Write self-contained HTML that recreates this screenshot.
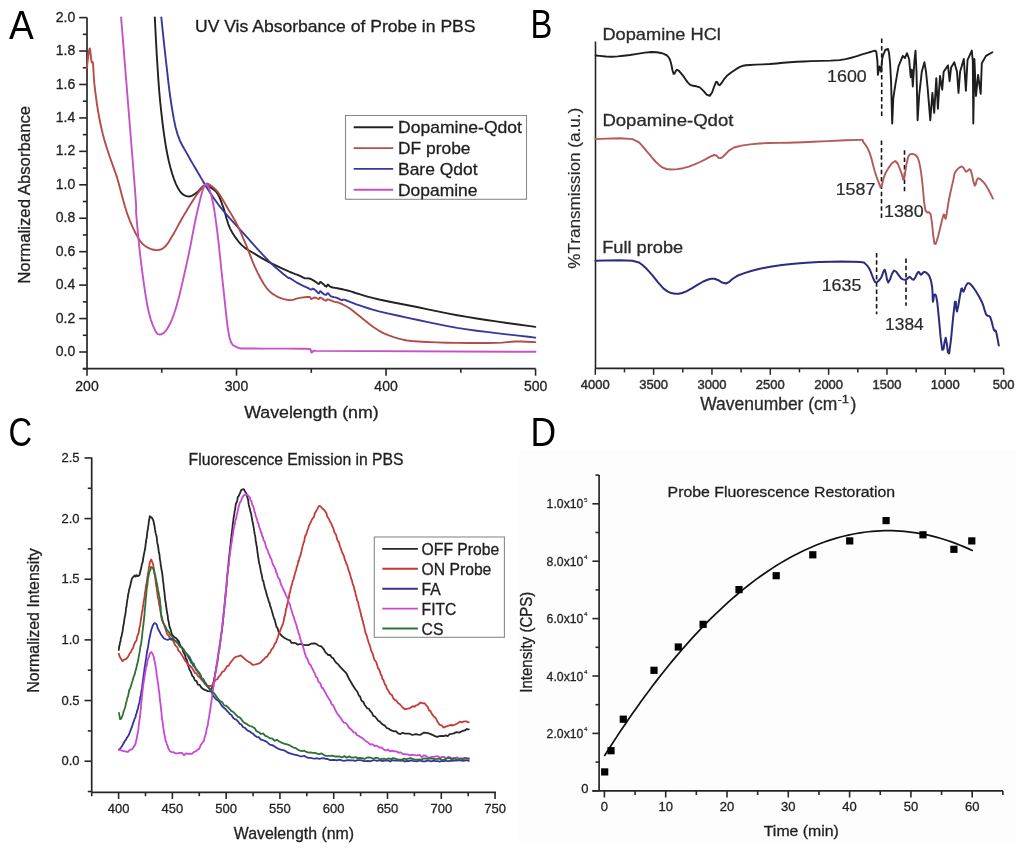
<!DOCTYPE html>
<html><head><meta charset="utf-8"><title>Figure</title>
<style>
html,body{margin:0;padding:0;background:#ffffff;}
body{width:1024px;height:851px;overflow:hidden;position:relative;}
svg{position:absolute;left:0;top:0;display:block;filter:blur(0.3px);}
text{font-family:"Liberation Sans", sans-serif;}
</style></head><body>
<svg width="1024" height="851" viewBox="0 0 1024 851">
<rect x="518.9" y="449.8" width="497.3" height="393.2" fill="#fdfdfd"/>
<text x="9" y="39.1" font-size="40.8" fill="#000" stroke="#000" stroke-width="0" textLength="24.8" lengthAdjust="spacingAndGlyphs" >A</text>
<text x="530.6" y="37.9" font-size="40.5" fill="#000" stroke="#000" stroke-width="0" textLength="21.8" lengthAdjust="spacingAndGlyphs" >B</text>
<text x="8.6" y="445.5" font-size="40" fill="#000" stroke="#000" stroke-width="0" textLength="23.6" lengthAdjust="spacingAndGlyphs" >C</text>
<text x="530.4" y="445.5" font-size="40.5" fill="#000" stroke="#000" stroke-width="0" textLength="25.6" lengthAdjust="spacingAndGlyphs" >D</text>
<line x1="87" y1="17.4" x2="87" y2="368.7" stroke="#262626" stroke-width="1.7" />
<line x1="82.8" y1="368.7" x2="535.6" y2="368.7" stroke="#262626" stroke-width="1.7" />
<line x1="82.8" y1="368.72" x2="87" y2="368.72" stroke="#262626" stroke-width="1.6" />
<line x1="79.2" y1="352" x2="87" y2="352" stroke="#262626" stroke-width="1.6" />
<text x="75.2" y="356.1" font-size="14" fill="#1f1f1f" stroke="#1f1f1f" stroke-width="0.3" text-anchor="end" >0.0</text>
<line x1="82.8" y1="335.28" x2="87" y2="335.28" stroke="#262626" stroke-width="1.6" />
<line x1="79.2" y1="318.56" x2="87" y2="318.56" stroke="#262626" stroke-width="1.6" />
<text x="75.2" y="322.66" font-size="14" fill="#1f1f1f" stroke="#1f1f1f" stroke-width="0.3" text-anchor="end" >0.2</text>
<line x1="82.8" y1="301.84" x2="87" y2="301.84" stroke="#262626" stroke-width="1.6" />
<line x1="79.2" y1="285.12" x2="87" y2="285.12" stroke="#262626" stroke-width="1.6" />
<text x="75.2" y="289.22" font-size="14" fill="#1f1f1f" stroke="#1f1f1f" stroke-width="0.3" text-anchor="end" >0.4</text>
<line x1="82.8" y1="268.4" x2="87" y2="268.4" stroke="#262626" stroke-width="1.6" />
<line x1="79.2" y1="251.68" x2="87" y2="251.68" stroke="#262626" stroke-width="1.6" />
<text x="75.2" y="255.78" font-size="14" fill="#1f1f1f" stroke="#1f1f1f" stroke-width="0.3" text-anchor="end" >0.6</text>
<line x1="82.8" y1="234.96" x2="87" y2="234.96" stroke="#262626" stroke-width="1.6" />
<line x1="79.2" y1="218.24" x2="87" y2="218.24" stroke="#262626" stroke-width="1.6" />
<text x="75.2" y="222.34" font-size="14" fill="#1f1f1f" stroke="#1f1f1f" stroke-width="0.3" text-anchor="end" >0.8</text>
<line x1="82.8" y1="201.52" x2="87" y2="201.52" stroke="#262626" stroke-width="1.6" />
<line x1="79.2" y1="184.8" x2="87" y2="184.8" stroke="#262626" stroke-width="1.6" />
<text x="75.2" y="188.9" font-size="14" fill="#1f1f1f" stroke="#1f1f1f" stroke-width="0.3" text-anchor="end" >1.0</text>
<line x1="82.8" y1="168.08" x2="87" y2="168.08" stroke="#262626" stroke-width="1.6" />
<line x1="79.2" y1="151.36" x2="87" y2="151.36" stroke="#262626" stroke-width="1.6" />
<text x="75.2" y="155.46" font-size="14" fill="#1f1f1f" stroke="#1f1f1f" stroke-width="0.3" text-anchor="end" >1.2</text>
<line x1="82.8" y1="134.64" x2="87" y2="134.64" stroke="#262626" stroke-width="1.6" />
<line x1="79.2" y1="117.92" x2="87" y2="117.92" stroke="#262626" stroke-width="1.6" />
<text x="75.2" y="122.02" font-size="14" fill="#1f1f1f" stroke="#1f1f1f" stroke-width="0.3" text-anchor="end" >1.4</text>
<line x1="82.8" y1="101.2" x2="87" y2="101.2" stroke="#262626" stroke-width="1.6" />
<line x1="79.2" y1="84.48" x2="87" y2="84.48" stroke="#262626" stroke-width="1.6" />
<text x="75.2" y="88.58" font-size="14" fill="#1f1f1f" stroke="#1f1f1f" stroke-width="0.3" text-anchor="end" >1.6</text>
<line x1="82.8" y1="67.76" x2="87" y2="67.76" stroke="#262626" stroke-width="1.6" />
<line x1="79.2" y1="51.04" x2="87" y2="51.04" stroke="#262626" stroke-width="1.6" />
<text x="75.2" y="55.14" font-size="14" fill="#1f1f1f" stroke="#1f1f1f" stroke-width="0.3" text-anchor="end" >1.8</text>
<line x1="82.8" y1="34.32" x2="87" y2="34.32" stroke="#262626" stroke-width="1.6" />
<line x1="79.2" y1="17.6" x2="87" y2="17.6" stroke="#262626" stroke-width="1.6" />
<text x="75.2" y="21.7" font-size="14" fill="#1f1f1f" stroke="#1f1f1f" stroke-width="0.3" text-anchor="end" >2.0</text>
<line x1="87" y1="368.7" x2="87" y2="375.7" stroke="#262626" stroke-width="1.6" />
<text x="87" y="391" font-size="14" fill="#1f1f1f" stroke="#1f1f1f" stroke-width="0.3" text-anchor="middle" >200</text>
<line x1="161.76" y1="368.7" x2="161.76" y2="372.8" stroke="#262626" stroke-width="1.6" />
<line x1="236.52" y1="368.7" x2="236.52" y2="375.7" stroke="#262626" stroke-width="1.6" />
<text x="236.52" y="391" font-size="14" fill="#1f1f1f" stroke="#1f1f1f" stroke-width="0.3" text-anchor="middle" >300</text>
<line x1="311.28" y1="368.7" x2="311.28" y2="372.8" stroke="#262626" stroke-width="1.6" />
<line x1="386.04" y1="368.7" x2="386.04" y2="375.7" stroke="#262626" stroke-width="1.6" />
<text x="386.04" y="391" font-size="14" fill="#1f1f1f" stroke="#1f1f1f" stroke-width="0.3" text-anchor="middle" >400</text>
<line x1="460.8" y1="368.7" x2="460.8" y2="372.8" stroke="#262626" stroke-width="1.6" />
<line x1="535.56" y1="368.7" x2="535.56" y2="375.7" stroke="#262626" stroke-width="1.6" />
<text x="535.56" y="391" font-size="14" fill="#1f1f1f" stroke="#1f1f1f" stroke-width="0.3" text-anchor="middle" >500</text>
<text x="195" y="31.8" font-size="16.4" fill="#1f1f1f" stroke="#1f1f1f" stroke-width="0.3" textLength="280.5" lengthAdjust="spacingAndGlyphs" >UV Vis Absorbance of Probe in PBS</text>
<text x="244.2" y="417.6" font-size="16.7" fill="#1f1f1f" stroke="#1f1f1f" stroke-width="0.3" textLength="134.5" lengthAdjust="spacingAndGlyphs" >Wavelength (nm)</text>
<text x="29.6" y="283.8" font-size="16.7" fill="#1f1f1f" stroke="#1f1f1f" stroke-width="0.3" textLength="178" lengthAdjust="spacingAndGlyphs" transform="rotate(-90 29.6 283.8)" >Normalized Absorbance</text>
<path d="M154.8 17.4 L155.17 24.73 L155.7 35.23 L156.33 47.09 L157 58.5 L157.68 69.21 L158.39 80.11 L159.21 91.08 L160.2 102 L161.39 113.21 L162.74 124.65 L164.2 135.61 L165.7 145.4 L167.23 153.79 L168.82 161.18 L170.47 167.75 L172.2 173.7 L174 179.1 L175.86 183.83 L177.8 187.85 L179.8 191.1 L181.91 193.51 L184.11 195.14 L186.33 196.09 L188.5 196.5 L190.6 196.25 L192.67 195.31 L194.73 193.97 L196.8 192.5 L198.93 190.59 L201.09 188.23 L203.21 186.1 L205.2 184.9 L207.03 184.96 L208.76 185.87 L210.4 187.19 L212 188.5 L213.54 189.57 L215.01 190.66 L216.45 192.1 L217.9 194.2 L219.37 197.11 L220.83 200.63 L222.3 204.59 L223.8 208.8 L225.2 213.42 L226.54 218.47 L228.06 223.59 L230 228.4 L232.5 232.96 L235.39 237.41 L238.52 241.53 L241.7 245.1 L244.9 247.89 L248.2 250.08 L251.63 252.03 L255.2 254.1 L258.89 256.35 L262.7 258.61 L266.68 260.86 L270.9 263.1 L275.68 265.46 L280.88 267.91 L285.87 270.17 L290 272 L292.99 273.23 L295.23 274.03 L297.05 274.63 L298.8 275.3 L300.49 276.11 L301.96 276.94 L303.3 277.67 L304.6 278.2 L305.84 278.4 L306.98 278.37 L308.11 278.32 L309.3 278.5 L310.61 278.98 L311.99 279.64 L313.35 280.38 L314.6 281.1 L315.77 281.92 L316.89 282.84 L317.89 283.61 L318.7 284 L319.23 283.76 L319.54 283.08 L319.81 282.35 L320.2 282 L320.75 282.13 L321.38 282.54 L322.06 283.1 L322.8 283.7 L323.66 284.48 L324.62 285.44 L325.54 286.28 L326.3 286.7 L326.78 286.43 L327.07 285.69 L327.35 284.93 L327.8 284.6 L328.35 284.9 L328.94 285.56 L329.77 286.34 L331 287 L332.77 287.46 L334.96 287.84 L337.37 288.24 L339.8 288.7 L342.27 289.26 L344.86 289.87 L347.47 290.52 L350 291.2 L352.19 291.86 L354.16 292.52 L356.43 293.28 L359.5 294.2 L363.24 295.3 L367.46 296.55 L372.6 297.95 L379.1 299.5 L387.48 301.27 L397.38 303.24 L407.89 305.28 L418.1 307.3 L427.87 309.31 L437.65 311.35 L447.43 313.34 L457.2 315.2 L466.95 316.89 L476.7 318.45 L486.45 319.94 L496.2 321.4 L506.88 322.95 L518.19 324.54 L528.27 325.93 L535.3 326.9" fill="none" stroke="#222222" stroke-width="1.9" stroke-linejoin="round" stroke-linecap="round" />
<path d="M161.3 17.4 L162.07 24.73 L163.17 35.23 L164.43 47.09 L165.7 58.5 L166.93 69.46 L168.21 80.78 L169.56 91.84 L171 102 L172.46 111.17 L173.95 119.66 L175.62 127.47 L177.6 134.6 L180.08 140.96 L182.93 146.57 L185.84 151.62 L188.5 156.3 L190.8 160.49 L192.92 164.14 L194.95 167.55 L197 171 L199.08 174.57 L201.14 178.11 L203.19 181.57 L205.2 184.9 L207.11 188 L208.94 190.92 L210.85 193.86 L213 197 L215.27 200.25 L217.63 203.55 L220.37 207.18 L223.8 211.4 L228.08 216.35 L233.03 221.86 L238.41 227.77 L244 233.9 L250.02 240.6 L256.49 247.83 L262.9 254.84 L268.7 260.9 L273.99 265.95 L278.98 270.34 L283.3 273.93 L286.6 276.6 L288.41 277.94 L289.05 278.14 L289.31 277.98 L290 278.2 L291.3 279.01 L292.8 280 L294.37 281.04 L295.9 282 L297.35 282.86 L298.8 283.68 L300.25 284.46 L301.7 285.2 L303.22 285.91 L304.79 286.59 L306.29 287.22 L307.6 287.8 L308.69 288.37 L309.61 288.92 L310.41 289.36 L311.1 289.6 L311.62 289.5 L311.98 289.15 L312.33 288.8 L312.8 288.7 L313.46 288.93 L314.23 289.36 L315.03 289.91 L315.8 290.5 L316.56 291.27 L317.34 292.21 L318.08 293.01 L318.7 293.4 L319.15 293.08 L319.47 292.29 L319.78 291.47 L320.2 291.1 L320.76 291.37 L321.39 292.01 L322.08 292.77 L322.8 293.4 L323.59 293.91 L324.45 294.41 L325.28 294.78 L326 294.9 L326.52 294.56 L326.9 293.89 L327.28 293.28 L327.8 293.1 L328.44 293.59 L329.14 294.49 L329.98 295.5 L331 296.3 L332.31 296.78 L333.86 297.11 L335.45 297.41 L336.9 297.8 L338.22 298.38 L339.47 299.08 L340.62 299.7 L341.6 300.1 L342.25 300.11 L342.66 299.85 L343.11 299.59 L343.9 299.6 L345.08 299.95 L346.5 300.5 L348.15 301.18 L350 301.9 L351.9 302.63 L353.91 303.42 L356.34 304.33 L359.5 305.4 L363.24 306.64 L367.46 308.02 L372.6 309.57 L379.1 311.3 L387.48 313.3 L397.38 315.53 L407.89 317.82 L418.1 320 L427.87 322.09 L437.65 324.17 L447.43 326.13 L457.2 327.9 L466.95 329.41 L476.7 330.71 L486.45 331.91 L496.2 333.1 L506.88 334.38 L518.19 335.68 L528.27 336.81 L535.3 337.6" fill="none" stroke="#38389c" stroke-width="1.9" stroke-linejoin="round" stroke-linecap="round" />
<path d="M86.8 68.2 L87.32 63.89 L88.08 57.53 L88.9 51.58 L89.6 48.5 L90.15 49.73 L90.63 53.7 L91.07 58.34 L91.5 61.6 L91.91 62.45 L92.29 62.14 L92.65 62.04 L93 63.5 L93.28 66.97 L93.51 71.71 L93.8 77.26 L94.3 83.2 L95.05 89.78 L95.99 97.12 L97.03 104.54 L98.1 111.4 L99.19 117.53 L100.34 123.29 L101.54 128.75 L102.8 134 L104.11 138.97 L105.48 143.64 L106.91 148.19 L108.4 152.8 L110.07 157.74 L111.88 162.85 L113.59 167.63 L115 171.6 L115.81 173.84 L116.22 174.87 L116.72 176.36 L117.8 180 L119.64 186.86 L121.97 195.83 L124.57 205.31 L127.2 213.7 L129.93 220.88 L132.82 227.59 L135.71 233.54 L138.4 238.4 L140.78 241.9 L142.97 244.28 L145.12 245.96 L147.4 247.4 L149.9 248.67 L152.52 249.55 L155.1 250.03 L157.5 250.1 L159.62 249.81 L161.58 249.14 L163.46 248.01 L165.4 246.3 L167.37 243.94 L169.32 240.99 L171.34 237.6 L173.5 233.9 L175.8 229.86 L178.2 225.42 L180.75 220.72 L183.5 215.9 L186.62 210.67 L190.03 205.07 L193.4 199.71 L196.4 195.2 L199.01 191.66 L201.37 188.79 L203.45 186.54 L205.2 184.9 L206.38 183.89 L207.09 183.52 L207.81 183.71 L209 184.4 L210.83 185.55 L213.04 187.21 L215.46 189.41 L217.9 192.2 L220.41 195.83 L223.04 200.21 L225.68 204.83 L228.2 209.2 L230.54 213.11 L232.78 216.85 L234.98 220.69 L237.2 224.9 L239.45 229.58 L241.7 234.57 L243.95 239.78 L246.2 245.1 L248.4 250.62 L250.56 256.35 L252.8 262.08 L255.2 267.6 L257.84 273.07 L260.66 278.54 L263.54 283.59 L266.4 287.8 L269.19 290.97 L271.98 293.36 L274.8 295.21 L277.7 296.8 L280.79 298.15 L284.01 299.14 L287.15 299.78 L290 300.1 L292.41 299.95 L294.51 299.38 L296.56 298.67 L298.8 298.1 L301.51 297.67 L304.49 297.24 L307.25 296.95 L309.3 296.9 L310.32 297.28 L310.64 297.97 L310.73 298.65 L311.1 299 L311.84 298.81 L312.71 298.29 L313.64 297.75 L314.6 297.5 L315.64 297.73 L316.78 298.25 L317.84 298.77 L318.7 299 L319.16 298.73 L319.36 298.14 L319.6 297.61 L320.2 297.5 L321.37 298.08 L322.91 299.09 L324.47 300.11 L325.7 300.7 L326.37 300.59 L326.71 300.06 L327.07 299.5 L327.8 299.3 L329.05 299.63 L330.61 300.27 L332.3 300.99 L333.9 301.6 L335.29 301.94 L336.59 302.15 L338.03 302.46 L339.8 303.1 L342.06 304.15 L344.68 305.48 L347.4 306.99 L350 308.6 L352.19 310.17 L354.16 311.78 L356.43 313.67 L359.5 316.1 L363.69 319.43 L368.68 323.43 L373.97 327.44 L379.1 330.8 L383.98 333.35 L388.86 335.44 L393.73 337.16 L398.6 338.6 L403.02 339.7 L407.13 340.45 L411.85 341 L418.1 341.5 L426.5 341.99 L436.43 342.38 L446.97 342.68 L457.2 342.9 L467.41 343.03 L477.92 343.07 L487.82 343.03 L496.2 342.9 L502.47 342.6 L507.22 342.16 L511.36 341.74 L515.8 341.5 L521.14 341.52 L526.77 341.71 L531.8 341.95 L535.3 342.1" fill="none" stroke="#b44c47" stroke-width="1.9" stroke-linejoin="round" stroke-linecap="round" />
<path d="M121.1 17.4 L123.9 51.9 L127.97 102.22 L132.09 153.27 L135 190 L136.12 205.9 L136.19 209.83 L135.97 209.77 L136.2 213.7 L137.02 223.38 L138.05 234.68 L139.26 246.72 L140.6 258.6 L142.13 270.82 L143.86 283.61 L145.65 295.69 L147.4 305.8 L149.11 313.52 L150.82 319.56 L152.5 324.31 L154.1 328.2 L155.52 331.2 L156.82 333.14 L158.16 334.19 L159.7 334.5 L161.49 334.19 L163.44 333.14 L165.49 331.2 L167.6 328.2 L169.72 324.31 L171.89 319.56 L174.17 313.52 L176.6 305.8 L179.3 295.69 L182.2 283.61 L185.1 270.82 L187.8 258.6 L190.22 246.84 L192.49 235 L194.66 223.74 L196.8 213.7 L198.95 204.43 L201.06 195.8 L203.1 188.92 L205 184.9 L206.75 184.35 L208.36 186.56 L209.9 190.72 L211.4 196 L212.83 202.09 L214.18 209.46 L215.53 218.45 L217 229.4 L218.64 243.47 L220.4 260.13 L222.16 277.15 L223.8 292.3 L225.23 305.61 L226.54 318.05 L227.87 328.84 L229.4 337.2 L231.06 342.38 L232.81 344.98 L234.8 346.22 L237.2 347.3 L239.34 348.25 L241.36 348.52 L244.67 348.48 L250.7 348.5 L261.44 348.62 L275.61 348.66 L289.64 348.67 L300 348.7 L305.38 348.77 L307.78 348.86 L308.65 348.94 L309.4 349" fill="none" stroke="#c452c6" stroke-width="1.9" stroke-linejoin="round" stroke-linecap="round" />
<path d="M309.4 349 L310.6 349.3 L311.4 352.6 L312.4 352.2 L313.4 350.6 L316 350.9 L535.5 351.8" fill="none" stroke="#c452c6" stroke-width="1.9" stroke-linejoin="round" stroke-linecap="round" />
<rect x="345.5" y="115.5" width="181" height="83.8" fill="#fff" stroke="#8a8a8a" stroke-width="1.1"/>
<line x1="353.7" y1="127.3" x2="393.2" y2="127.3" stroke="#222222" stroke-width="1.9" />
<text x="398" y="133.1" font-size="17" fill="#1f1f1f" stroke="#1f1f1f" stroke-width="0.3" textLength="124" lengthAdjust="spacingAndGlyphs" >Dopamine-Qdot</text>
<line x1="353.7" y1="148.1" x2="393.2" y2="148.1" stroke="#b44c47" stroke-width="1.9" />
<text x="398" y="153.9" font-size="17" fill="#1f1f1f" stroke="#1f1f1f" stroke-width="0.3" textLength="72.5" lengthAdjust="spacingAndGlyphs" >DF probe</text>
<line x1="353.7" y1="168.9" x2="393.2" y2="168.9" stroke="#38389c" stroke-width="1.9" />
<text x="398" y="174.7" font-size="17" fill="#1f1f1f" stroke="#1f1f1f" stroke-width="0.3" textLength="79.5" lengthAdjust="spacingAndGlyphs" >Bare Qdot</text>
<line x1="353.7" y1="189.7" x2="393.2" y2="189.7" stroke="#c452c6" stroke-width="1.9" />
<text x="398" y="195.5" font-size="17" fill="#1f1f1f" stroke="#1f1f1f" stroke-width="0.3" textLength="79.5" lengthAdjust="spacingAndGlyphs" >Dopamine</text>
<line x1="91.7" y1="457.5" x2="91.7" y2="792.3" stroke="#262626" stroke-width="1.7" />
<line x1="91.7" y1="792.3" x2="496" y2="792.3" stroke="#262626" stroke-width="1.7" />
<line x1="87.8" y1="791.53" x2="91.7" y2="791.53" stroke="#262626" stroke-width="1.6" />
<line x1="84.5" y1="761.2" x2="91.7" y2="761.2" stroke="#262626" stroke-width="1.6" />
<text x="79.6" y="765.2" font-size="13" fill="#1f1f1f" stroke="#1f1f1f" stroke-width="0.3" text-anchor="end" >0.0</text>
<line x1="87.8" y1="730.88" x2="91.7" y2="730.88" stroke="#262626" stroke-width="1.6" />
<line x1="84.5" y1="700.55" x2="91.7" y2="700.55" stroke="#262626" stroke-width="1.6" />
<text x="79.6" y="704.55" font-size="13" fill="#1f1f1f" stroke="#1f1f1f" stroke-width="0.3" text-anchor="end" >0.5</text>
<line x1="87.8" y1="670.23" x2="91.7" y2="670.23" stroke="#262626" stroke-width="1.6" />
<line x1="84.5" y1="639.9" x2="91.7" y2="639.9" stroke="#262626" stroke-width="1.6" />
<text x="79.6" y="643.9" font-size="13" fill="#1f1f1f" stroke="#1f1f1f" stroke-width="0.3" text-anchor="end" >1.0</text>
<line x1="87.8" y1="609.58" x2="91.7" y2="609.58" stroke="#262626" stroke-width="1.6" />
<line x1="84.5" y1="579.25" x2="91.7" y2="579.25" stroke="#262626" stroke-width="1.6" />
<text x="79.6" y="583.25" font-size="13" fill="#1f1f1f" stroke="#1f1f1f" stroke-width="0.3" text-anchor="end" >1.5</text>
<line x1="87.8" y1="548.93" x2="91.7" y2="548.93" stroke="#262626" stroke-width="1.6" />
<line x1="84.5" y1="518.6" x2="91.7" y2="518.6" stroke="#262626" stroke-width="1.6" />
<text x="79.6" y="522.6" font-size="13" fill="#1f1f1f" stroke="#1f1f1f" stroke-width="0.3" text-anchor="end" >2.0</text>
<line x1="87.8" y1="488.28" x2="91.7" y2="488.28" stroke="#262626" stroke-width="1.6" />
<line x1="84.5" y1="457.95" x2="91.7" y2="457.95" stroke="#262626" stroke-width="1.6" />
<text x="79.6" y="461.95" font-size="13" fill="#1f1f1f" stroke="#1f1f1f" stroke-width="0.3" text-anchor="end" >2.5</text>
<line x1="91.71" y1="792.3" x2="91.71" y2="796.2" stroke="#262626" stroke-width="1.6" />
<line x1="118.6" y1="792.3" x2="118.6" y2="799" stroke="#262626" stroke-width="1.6" />
<text x="118.6" y="812.8" font-size="13" fill="#1f1f1f" stroke="#1f1f1f" stroke-width="0.3" text-anchor="middle" >400</text>
<line x1="145.49" y1="792.3" x2="145.49" y2="796.2" stroke="#262626" stroke-width="1.6" />
<line x1="172.38" y1="792.3" x2="172.38" y2="799" stroke="#262626" stroke-width="1.6" />
<text x="172.38" y="812.8" font-size="13" fill="#1f1f1f" stroke="#1f1f1f" stroke-width="0.3" text-anchor="middle" >450</text>
<line x1="199.27" y1="792.3" x2="199.27" y2="796.2" stroke="#262626" stroke-width="1.6" />
<line x1="226.16" y1="792.3" x2="226.16" y2="799" stroke="#262626" stroke-width="1.6" />
<text x="226.16" y="812.8" font-size="13" fill="#1f1f1f" stroke="#1f1f1f" stroke-width="0.3" text-anchor="middle" >500</text>
<line x1="253.05" y1="792.3" x2="253.05" y2="796.2" stroke="#262626" stroke-width="1.6" />
<line x1="279.94" y1="792.3" x2="279.94" y2="799" stroke="#262626" stroke-width="1.6" />
<text x="279.94" y="812.8" font-size="13" fill="#1f1f1f" stroke="#1f1f1f" stroke-width="0.3" text-anchor="middle" >550</text>
<line x1="306.83" y1="792.3" x2="306.83" y2="796.2" stroke="#262626" stroke-width="1.6" />
<line x1="333.72" y1="792.3" x2="333.72" y2="799" stroke="#262626" stroke-width="1.6" />
<text x="333.72" y="812.8" font-size="13" fill="#1f1f1f" stroke="#1f1f1f" stroke-width="0.3" text-anchor="middle" >600</text>
<line x1="360.61" y1="792.3" x2="360.61" y2="796.2" stroke="#262626" stroke-width="1.6" />
<line x1="387.5" y1="792.3" x2="387.5" y2="799" stroke="#262626" stroke-width="1.6" />
<text x="387.5" y="812.8" font-size="13" fill="#1f1f1f" stroke="#1f1f1f" stroke-width="0.3" text-anchor="middle" >650</text>
<line x1="414.39" y1="792.3" x2="414.39" y2="796.2" stroke="#262626" stroke-width="1.6" />
<line x1="441.28" y1="792.3" x2="441.28" y2="799" stroke="#262626" stroke-width="1.6" />
<text x="441.28" y="812.8" font-size="13" fill="#1f1f1f" stroke="#1f1f1f" stroke-width="0.3" text-anchor="middle" >700</text>
<line x1="468.17" y1="792.3" x2="468.17" y2="796.2" stroke="#262626" stroke-width="1.6" />
<line x1="495.06" y1="792.3" x2="495.06" y2="799" stroke="#262626" stroke-width="1.6" />
<text x="495.06" y="812.8" font-size="13" fill="#1f1f1f" stroke="#1f1f1f" stroke-width="0.3" text-anchor="middle" >750</text>
<text x="188.6" y="465" font-size="16" fill="#1f1f1f" stroke="#1f1f1f" stroke-width="0.3" textLength="215" lengthAdjust="spacingAndGlyphs" >Fluorescence Emission in PBS</text>
<text x="233.8" y="838.9" font-size="15.9" fill="#1f1f1f" stroke="#1f1f1f" stroke-width="0.3" textLength="120.2" lengthAdjust="spacingAndGlyphs" >Wavelength (nm)</text>
<text x="39.1" y="692.7" font-size="15.6" fill="#1f1f1f" stroke="#1f1f1f" stroke-width="0.3" textLength="144.5" lengthAdjust="spacingAndGlyphs" transform="rotate(-90 39.1 692.7)" >Normalized Intensity</text>
<path d="M118.8 650.02 L119.22 645.9 L119.64 645.46 L120.06 642.16 L120.5 641.8 L120.94 637.49 L121.39 637.21 L121.83 634.6 L122.25 632.79 L122.67 630.9 L123.08 627.03 L123.5 625.04 L123.84 623.75 L124.17 620.71 L124.51 618.57 L124.84 616.38 L125.15 615.64 L125.46 613.55 L125.76 611.26 L126.07 607.87 L126.45 606.92 L126.82 603.52 L127.2 600.41 L127.53 598.92 L127.86 596.87 L128.2 594.14 L128.64 592.76 L129.09 589.86 L129.55 588.19 L130 586.85 L130.96 582.35 L131.94 578.58 L132.9 577.3 L133.84 576.59 L134.77 575.43 L135.7 576.58 L136.63 575.09 L137.57 576.1 L138.5 575.78 L139.43 575.23 L140.36 571.32 L141.3 567.58 L141.78 564.68 L142.26 563.18 L142.75 561.87 L143.24 557.98 L143.72 555.53 L144.2 552.9 L144.67 550.89 L145.14 548.76 L145.45 545.97 L145.76 543.46 L146.07 541.51 L146.38 538.67 L146.69 538.22 L147 534.78 L147.31 532.26 L147.62 530.17 L147.93 529.05 L148.24 525.71 L148.56 524.78 L148.87 521.31 L149.33 519.3 L149.8 516.26 L150.73 516.88 L151.66 517.62 L152.6 519.04 L153.53 521.17 L154 524.03 L154.47 525.81 L154.99 529.44 L155.5 532.24 L155.89 534.04 L156.28 535.25 L156.67 536.91 L157.09 541.38 L157.51 544.09 L157.93 544.95 L158.25 547.75 L158.56 549.76 L158.88 552.9 L159.2 552.89 L159.52 555.03 L159.83 558.85 L160.15 560.34 L160.46 562.2 L160.78 565.09 L161.1 566.89 L161.42 569.31 L161.74 570.55 L162.05 572.48 L162.37 574.61 L162.68 577.63 L163 580.63 L163.24 582.04 L163.48 583.98 L163.72 586.58 L163.96 588.78 L164.2 590.55 L164.44 592.01 L164.68 595.22 L164.91 597.27 L165.15 599.56 L165.39 601.65 L165.72 602.12 L166.04 605.96 L166.37 607.66 L166.7 610.15 L167.05 612.58 L167.41 613.91 L167.76 616.28 L168.12 620.05 L168.63 621.19 L169.15 625.05 L169.66 627.13 L170.27 628.41 L170.89 630.51 L171.5 633.23 L172.68 635.43 L173.86 636.62 L176.51 638.51 L179 641.68 L180.08 645.21 L181.15 646.94 L182.14 647.8 L183.14 651.63 L184.07 653.36 L185 655.14 L185.8 658.74 L186.6 659.43 L187.34 661.82 L188.08 664.81 L188.99 668.1 L189.9 670.11 L191.08 672.45 L192.26 675.86 L193.62 677.19 L194.97 680.51 L196.44 680.85 L197.9 684.62 L199.6 684.84 L201.31 687.53 L203.12 689.13 L204.94 689.93 L207.9 691.07 L209.68 691.33 L210.79 691 L211.9 687.71 L212.53 685.38 L213.16 684.06 L213.79 681.11 L214.42 677.34 L214.79 676.21 L215.16 674.02 L215.53 671.29 L215.9 670.46 L216.28 668.27 L216.67 664.96 L217.05 663.78 L217.44 661.71 L217.82 658.65 L218.13 656.07 L218.43 653.75 L218.74 651.42 L219.05 649.71 L219.35 649.29 L219.66 645.2 L219.97 645.06 L220.24 642.56 L220.52 640.73 L220.8 637.2 L221.07 636.38 L221.35 633.39 L221.62 632.41 L221.9 630.65 L222.15 628.27 L222.4 625.63 L222.66 624.18 L222.91 620.52 L223.16 618.14 L223.41 617.47 L223.63 613.47 L223.85 612.05 L224.07 609.83 L224.28 608.61 L224.5 605.28 L224.72 603.49 L224.93 601.12 L225.15 598.85 L225.36 596.61 L225.57 594.38 L225.79 592.44 L226 589.85 L226.21 587.64 L226.41 586.55 L226.62 584.48 L226.82 580.68 L227.03 580.03 L227.24 575.81 L227.44 574.29 L227.64 573.35 L227.84 569.55 L228.05 568.46 L228.25 566.98 L228.45 563.95 L228.69 561.31 L228.93 558.07 L229.18 556.69 L229.42 554.42 L229.66 552.84 L229.9 549.66 L230.12 548.57 L230.34 545.69 L230.57 544.19 L230.79 542.46 L231.01 539.16 L231.23 538.89 L231.45 535.78 L231.67 533.84 L231.93 532.84 L232.18 529.88 L232.43 527.68 L232.68 524.93 L232.93 522.86 L233.18 521.96 L233.43 519.32 L233.68 517.57 L234.05 515.45 L234.42 513.22 L234.79 510.22 L235.16 509.21 L235.53 506.09 L235.9 503.29 L236.55 502.69 L237.19 500.65 L237.84 496.81 L238.48 496.37 L239.88 493.42 L241.27 489.98 L243.8 489.17 L245.82 492.89 L246.41 493.37 L246.99 496.66 L247.58 497.91 L248.15 500.22 L248.73 504.48 L249.3 507.09 L249.87 508.81 L250.43 511.58 L251 513.18 L251.41 515.36 L251.83 517.87 L252.24 520.41 L252.66 522.26 L253.03 523.79 L253.4 526.17 L253.76 527.71 L254.13 530.65 L254.5 532.81 L254.81 534.68 L255.12 535.77 L255.43 537.98 L255.74 541.38 L256.05 542.14 L256.36 544.85 L256.65 545.64 L256.95 547.76 L257.24 550 L257.53 553.02 L257.82 554.08 L258.11 557.06 L258.4 557.81 L258.82 561.34 L259.23 563.52 L259.64 564.71 L260.06 566.83 L260.47 569.02 L260.89 571.72 L261.3 573.21 L261.82 575.27 L262.33 578.47 L262.85 580.71 L263.36 580.95 L263.88 583.69 L264.4 585.95 L264.91 588.54 L265.43 589.63 L265.94 591.52 L266.56 594.09 L267.17 596.18 L267.78 598.06 L268.39 599.91 L269 602.38 L269.61 602.73 L270.22 606.38 L270.83 607.23 L271.44 609.56 L272.07 611.64 L272.69 613.9 L273.31 616.05 L273.93 618.03 L274.56 619.42 L275.18 621.51 L275.8 624.14 L276.47 626.8 L277.15 627.65 L277.82 628.88 L278.7 632.38 L280 633.85 L282.24 636.32 L284.9 638.2 L288 639.82 L289.78 640.06 L291.56 642.96 L293.56 642.8 L295.56 643.02 L297.78 644.7 L300 644 L302.67 644.68 L305.33 645.08 L308.22 645.11 L311.11 643.73 L313.56 643.35 L316 643.66 L319.04 645.89 L321.19 646.25 L322.6 647.78 L324 649.66 L325.45 652.38 L326.89 653.61 L328.34 655.18 L330.01 654.83 L331.67 657.51 L333.34 658.4 L334.86 660.98 L336.38 663.04 L337.9 663.96 L339.75 666.46 L341.6 668.47 L343.23 670.02 L344.86 671.68 L346.38 673.39 L347.9 676.48 L349.27 679.28 L350.64 681.48 L351.9 683.72 L353.16 685.88 L354.53 687.9 L355.9 689.99 L357.42 691.74 L358.94 695.81 L360.02 696.25 L361.11 699.68 L362.2 701.31 L363.43 701.84 L364.67 705 L365.9 706.46 L367.33 708.44 L368.76 708.74 L370.2 710.95 L371.78 712.54 L373.36 716.13 L374.94 716.44 L376.59 718.51 L378.25 720.82 L379.9 721.67 L381.58 723.54 L383.26 724.87 L384.94 725.67 L386.69 728 L388.44 728.55 L390.2 729.84 L392.1 730.68 L394 731.3 L395.9 731.17 L398.12 733.38 L400.34 734.01 L402.57 732.73 L404.94 733.62 L407.31 733.53 L409.68 733.72 L411.75 734.83 L413.83 734.63 L415.9 734.09 L418.16 734.6 L420.42 734.81 L424.06 732.51 L427.9 733.22 L430.18 733.84 L432.46 734.82 L434.85 736.11 L437.24 736.77 L439.52 736.14 L441.8 735.98 L443.81 736.16 L445.83 735.42 L447.74 736.1 L449.65 734.21 L451.72 733.83 L453.8 733.4 L456.47 732.13 L459.13 732.63 L461.97 731.23 L464.8 730.43 L466.8 729.02 L468.8 729.3" fill="none" stroke="#262626" stroke-width="1.8" stroke-linejoin="round" stroke-linecap="round" />
<path d="M118.8 653.74 L119.76 656.8 L121.12 659.09 L122.5 661.27 L123.69 659.97 L124.9 659.27 L126.3 658.91 L128 656.72 L129.89 653.17 L130.9 652.16 L131.9 649.67 L133 648.22 L134.1 644.47 L135.25 641.94 L136.4 640.67 L137.1 637.21 L137.8 634.74 L138.5 633.67 L138.94 631.11 L139.37 627.86 L139.81 626.56 L140.24 624.63 L140.55 621.53 L140.85 620.6 L141.16 617.44 L141.46 615.91 L141.77 613.35 L142.13 611.22 L142.49 610.53 L142.84 606.88 L143.2 605.78 L143.54 602.39 L143.89 600.59 L144.23 599 L144.57 596.41 L144.89 593.08 L145.21 592.07 L145.52 590.1 L145.84 587.04 L146.23 584.37 L146.61 583.6 L147 580.33 L147.34 577.37 L147.68 575.68 L148.03 572.9 L148.33 572.19 L148.64 569.55 L148.94 566.69 L149.37 566.13 L149.8 562.4 L150.6 560.61 L151.34 559.54 L152.1 562.03 L152.88 563.07 L153.67 567.84 L154.08 569.35 L154.5 572.66 L154.78 575.13 L155.06 576.81 L155.33 578.66 L155.63 581.09 L155.92 583.36 L156.21 586.08 L156.57 587.49 L156.94 590.83 L157.3 592.82 L157.65 596.25 L157.99 598.45 L158.34 598.57 L158.69 600.78 L159.09 604.16 L159.49 606.02 L159.89 606.95 L160.29 610.61 L160.86 613.71 L161.43 615.15 L162 617.56 L162.59 620.21 L163.17 623.18 L163.76 623.85 L164.69 626.75 L165.63 629.31 L166.66 632.68 L167.7 634.73 L168.84 635.98 L169.98 637.99 L172.46 639.84 L173.83 642.17 L175.2 645.36 L176.29 646.33 L177.39 647.51 L178.48 650.79 L179.66 651.64 L180.83 653.52 L182.01 655.17 L183.51 657.92 L185 660.54 L186.73 662.76 L187.92 664.99 L189.9 665.48 L191.71 667.59 L193.52 670.51 L194.99 672.97 L196.46 673.36 L197.93 676.16 L199.92 677.5 L201.9 680.13 L203.42 681.73 L204.94 684.01 L207.53 685.75 L209.9 686.02 L211.9 685.86 L213.68 682.6 L215.9 679.75 L217.38 679.23 L218.86 676.55 L220.57 674.93 L222.27 671.81 L224.09 671.02 L225.9 668.25 L227.23 665.91 L228.57 665.89 L229.9 663.34 L231.31 661.52 L232.72 659.82 L234.13 657.94 L236.01 656.75 L237.9 656.42 L240.76 655.32 L243.16 657.47 L245.8 659.88 L248.98 662.14 L250.68 662.85 L252.39 664.81 L255.8 664.46 L259.21 663.45 L260.91 662.28 L262.61 660.33 L264.21 658.96 L265.8 657.22 L267.24 656.72 L268.69 653.67 L270.02 652.76 L271.36 649.72 L272.58 648.49 L273.8 646.34 L274.91 643.38 L276.02 642.36 L277.02 639.34 L278.02 636.72 L278.91 633.3 L279.8 631.79 L281.2 627.93 L282.38 625.05 L283.09 623.51 L283.8 620.8 L284.24 617.07 L284.68 616.46 L285.12 615.04 L285.56 612.21 L286.06 608.81 L286.57 608.09 L287.07 604.7 L287.57 603.51 L288.06 601.16 L288.54 598.95 L289.03 597.07 L289.51 593.06 L290 592.55 L290.52 589.52 L291.04 587.19 L291.56 585.78 L292.08 584.29 L292.6 581.05 L293.13 580.07 L293.72 578.71 L294.31 575.98 L294.9 573.95 L295.49 571.34 L296.08 570.73 L296.67 567.04 L297.23 566.04 L297.78 564.02 L298.34 560.65 L298.89 560.89 L299.45 557.27 L300 556.98 L300.58 554.74 L301.16 552.59 L301.73 550.39 L302.31 547.28 L302.89 545.29 L303.56 542.67 L304.22 541.58 L304.89 537.18 L305.56 535.02 L306.17 534.87 L306.78 532.59 L307.39 530.41 L308 529.03 L309.09 525.43 L310.19 523.49 L312.15 519.14 L314 516.88 L314.87 513.05 L315.74 511.86 L316.56 510.28 L317.37 508.87 L319 505.83 L320.56 506.25 L322.11 508.29 L324 509.82 L325.22 511.49 L326.45 513.27 L327.38 516.97 L328.3 518 L329.23 519.69 L330.15 522 L331.08 523.14 L332 525.39 L332.85 527.43 L333.71 529.49 L334.56 532.84 L335.41 533.65 L336.26 535.46 L337.11 539.33 L338.04 541.11 L338.97 542.4 L339.9 546.29 L340.69 548.42 L341.49 550.45 L342.28 552.83 L343.08 554.17 L343.93 556.07 L344.78 559.54 L345.64 561.61 L346.49 564.12 L347.17 565.02 L347.85 567.48 L348.54 570.23 L349.22 571.6 L349.9 574.13 L350.49 575.84 L351.07 578.46 L351.66 579.56 L352.25 581.89 L352.83 584.62 L353.42 585.48 L354 587.33 L354.59 590.49 L355.18 591.53 L355.76 595.27 L356.35 596.14 L356.94 599.67 L357.53 601.08 L358.12 602.47 L358.71 605.5 L359.31 608.08 L359.9 609.87 L360.39 612.15 L360.88 613.52 L361.37 616.77 L361.86 616.99 L362.33 620.38 L362.8 620.69 L363.27 623.76 L363.81 624.88 L364.36 627.11 L364.9 630.19 L365.62 633.31 L366.33 634.42 L367.05 637.05 L367.84 639.71 L368.63 642.48 L369.42 644.42 L370.25 646.84 L371.07 650.36 L371.9 652.12 L372.76 653.97 L373.63 657.29 L374.49 659.99 L375.39 660.96 L376.3 662.27 L377.2 665.13 L378.1 668.58 L379 669.13 L379.9 671.34 L380.74 674.73 L381.58 675.33 L382.42 679.03 L383.26 679.67 L384.1 682.04 L384.94 684.51 L385.92 685.35 L386.91 688.71 L387.9 689.86 L389.18 692.46 L390.47 694.31 L391.75 694.67 L393.18 698.06 L394.62 699.81 L396.05 700.29 L397.97 703.08 L399.9 704.25 L402.6 707.5 L404.86 709.27 L407.9 708.63 L410.25 708.03 L412.61 706.2 L414.44 706.81 L416.26 705.29 L418.09 704.74 L420.5 702.53 L422.9 703.44 L424.63 703.22 L426.35 705.47 L427.74 706.92 L429.13 710.56 L430.46 710.92 L431.8 713.84 L433.2 715.67 L434.61 717.32 L435.96 718.39 L437.31 721.49 L439.8 724.94 L441.73 725.37 L443.43 727.56 L445.8 726.55 L449.39 725.46 L451.52 725 L453.65 725.28 L455.73 724.19 L457.8 723.19 L459.87 721.65 L461.95 722.32 L463.97 721.31 L465.99 721.37 L468.8 722.3" fill="none" stroke="#c43b37" stroke-width="1.8" stroke-linejoin="round" stroke-linecap="round" />
<path d="M119 749.86 L120.81 747.78 L122.11 746.06 L123.41 743.48 L124.7 741.19 L126 739.7 L127.17 737.24 L128.33 735.8 L129.5 732.98 L130.67 730.21 L131.44 728.09 L132.22 726.21 L133 723.33 L133.8 721.47 L134.6 718.69 L135.4 717.55 L136 714.22 L136.61 713.46 L137.21 710.3 L137.81 709.3 L138.36 706.47 L138.9 704.3 L139.45 702.72 L140 699.13 L140.37 696.98 L140.74 696.14 L141.11 693.27 L141.48 690.39 L141.86 689.61 L142.13 687.5 L142.4 684.12 L142.68 682.57 L142.95 680.06 L143.23 678.3 L143.5 676.74 L143.82 673.7 L144.14 672.24 L144.46 668.9 L144.78 666.78 L145.1 665.51 L145.42 662.75 L145.74 660.69 L146.06 658.88 L146.38 656.6 L146.7 654.37 L147.08 651.37 L147.47 650.06 L147.86 648.01 L148.25 645.6 L148.64 643.06 L149.02 640.54 L149.41 638.52 L149.8 637 L150.32 634.78 L150.84 631.69 L151.37 629.69 L152.15 627.39 L152.93 625.12 L154.5 623.1 L156.07 623.8 L156.85 624.9 L157.63 628.02 L159.2 630.99 L160.73 633.95 L162.26 636.17 L163.9 638.48 L165.73 639.24 L167.67 639.95 L169.6 638.96 L171.32 639.6 L173.03 638.92 L175.2 640.81 L176.77 641.31 L178.34 643.25 L180.14 645.5 L181.94 648.1 L183.47 649.12 L185 651.73 L186.73 653.94 L187.92 656.31 L189.9 659.96 L191.06 662.48 L192.22 663.47 L193.37 665.97 L194.8 666.82 L196.22 670.14 L197.64 671.35 L199.06 673.18 L200.48 676.19 L201.9 678.56 L203.18 679.11 L204.47 681.52 L205.75 684.33 L207.04 685.64 L208.32 687.48 L209.6 689.11 L211.04 691.16 L212.47 694.09 L213.9 696.67 L215.53 698.7 L217.16 699.91 L218.79 701.14 L220.13 703.12 L221.46 705.36 L222.8 706.93 L224.13 708.12 L225.57 708.97 L227.01 710.94 L228.46 712.36 L229.9 714.1 L231.49 715.08 L233.07 717.73 L234.66 719.2 L236.24 719.58 L237.93 721.34 L239.63 723.83 L241.32 724.43 L243.01 727.05 L244.71 727.76 L246.41 729.44 L248.1 730.84 L249.8 731.44 L251.46 732.69 L253.13 733.79 L254.79 735.61 L256.45 736.77 L258.67 737.16 L260.89 739.67 L263.11 740.22 L265.34 741.12 L267.57 742.61 L269.8 744.67 L272.17 745.14 L274.53 746.4 L276.9 748.02 L279.27 749.12 L281.64 749.84 L284.01 750.32 L286.01 751.41 L288 752.73 L290 753.36 L293.35 754.45 L295.56 754.83 L297.78 755.28 L300 756.28 L302.13 756.31 L304.26 755.75 L306.39 757.17 L308.52 757.79 L310.67 757.88 L312.82 758.3 L314.97 758.59 L317.12 758.25 L319.27 758.92 L321.41 758.47 L323.56 758.23 L325.71 758.85 L327.85 758.99 L330 760.19 L332.35 760.01 L334.7 759.98 L337.05 760.31 L339.39 759.63 L341.74 760.4 L344.09 760.78 L346.34 760.33 L348.6 760.12 L350.86 760.42 L353.12 760.32 L355.38 760.93 L357.64 760.09 L359.9 760.04 L361.93 760.41 L363.96 761.03 L365.98 761.14 L368.01 760.99 L370.04 761.44 L372.07 760.54 L374.1 760.01 L376.13 760.75 L378.15 760.69 L380.18 760.27 L382.21 761.06 L384.24 760.55 L386.27 760.39 L388.3 760.55 L390.32 761.54 L392.35 760.05 L394.38 760.62 L396.44 760.5 L398.5 760.37 L400.56 760.75 L402.62 760.41 L404.68 761.53 L406.74 760.86 L408.8 761.18 L410.86 760.32 L412.92 760.81 L414.98 761.04 L417.04 761.42 L419.1 760.47 L421.16 760.81 L423.22 761.44 L425.28 761.41 L427.34 760.44 L429.4 760.94 L431.46 761.3 L433.52 760.71 L435.58 761.16 L437.64 761.15 L439.72 761.64 L441.8 760.97 L443.87 761.18 L445.95 760.65 L448.03 761.26 L450.1 760.61 L452.18 760.89 L454.26 760.67 L456.34 760.59 L458.41 760.31 L460.49 760.46 L462.57 760.97 L464.65 760.5 L466.72 760.17 L468.8 760.9" fill="none" stroke="#34349a" stroke-width="1.8" stroke-linejoin="round" stroke-linecap="round" />
<path d="M119 749.37 L122.63 750.97 L125.17 751.3 L127.7 752 L129.85 749.88 L132 749.31 L133.26 747.42 L134.52 745.88 L135.39 744.3 L136.27 740.26 L136.7 738.85 L137.13 735.86 L137.57 733.74 L138 731.75 L138.28 730.39 L138.56 727.64 L138.84 724.08 L139.13 722.41 L139.41 719.87 L139.69 719.22 L139.97 716.83 L140.19 714.66 L140.41 712.53 L140.62 710.19 L140.84 708.47 L141.06 705.96 L141.28 702.61 L141.49 701.74 L141.71 698.78 L141.93 697.2 L142.18 694.7 L142.42 692.32 L142.67 690.1 L142.91 688.16 L143.16 685.83 L143.41 683.32 L143.65 682.78 L143.9 680.66 L144.31 678.73 L144.73 675.74 L145.14 673.1 L145.55 671.19 L145.97 667.5 L146.49 666.49 L147.01 663.77 L147.53 660.98 L148.04 658.83 L148.97 656.79 L149.9 653.46 L151.34 651.98 L152.57 653.71 L153.23 655.51 L153.9 657.19 L154.3 660.04 L154.7 661.53 L155.09 663.59 L155.49 665.55 L155.83 668.2 L156.17 669.82 L156.51 673.36 L156.86 676.29 L157.2 677.32 L157.48 680.12 L157.76 682.66 L158.05 682.78 L158.33 685.07 L158.62 688.6 L158.9 690.74 L159.13 692.32 L159.37 693.27 L159.6 695.84 L159.83 698.86 L160.06 700.91 L160.3 702.74 L160.53 703.43 L160.76 707.03 L161 708.14 L161.23 711.06 L161.46 711.96 L161.69 715.96 L161.93 717.32 L162.16 719.75 L162.45 720.73 L162.74 723.73 L163.03 725.76 L163.32 727.89 L163.61 729.48 L163.9 732.4 L164.33 733.71 L164.75 735.76 L165.18 737.63 L165.6 740.93 L166.21 741.7 L166.81 743.97 L167.42 745.65 L168.66 749.07 L169.9 751.02 L171.68 752.16 L173.46 752.22 L175.57 753.38 L177.68 753.44 L179.79 752.95 L181.9 752.81 L183.94 755.2 L185.97 753.47 L188.01 753.85 L190.05 753.76 L191.97 753.8 L193.9 751.97 L195.71 751.39 L197.53 749.72 L199.23 748.64 L200.94 744.7 L201.92 743.46 L202.91 741.86 L203.9 740.93 L204.47 738.01 L205.05 735.99 L205.62 734.49 L206.2 731.75 L206.66 728.82 L207.12 727.51 L207.59 726.06 L208.05 723.34 L208.42 720.1 L208.79 718.86 L209.16 717.04 L209.53 713.55 L209.9 712.09 L210.23 709.41 L210.57 707 L210.9 704.93 L211.23 702.58 L211.57 700.73 L211.9 697.88 L212.19 696.59 L212.47 693.83 L212.76 693.22 L213.04 690.8 L213.33 687.41 L213.61 687.02 L213.9 683.66 L214.19 682.25 L214.47 680.36 L214.76 677.83 L215.04 675.68 L215.33 673.95 L215.61 671.25 L215.9 670.8 L216.22 667.12 L216.54 666.67 L216.86 663.31 L217.18 661.48 L217.5 659.64 L217.83 656.84 L218.15 655.06 L218.47 653.58 L218.79 651.77 L219.11 650.74 L219.43 649 L219.75 644.93 L220.02 644.02 L220.29 641.14 L220.56 640.63 L220.83 637.58 L221.09 636.84 L221.36 634.08 L221.63 631.17 L221.9 628.91 L222.11 627.46 L222.32 626.83 L222.53 623.26 L222.74 621.99 L222.95 619.77 L223.16 617.72 L223.37 616.73 L223.58 613.45 L223.79 612.57 L224 610.46 L224.21 609.06 L224.42 606.16 L224.62 605.05 L224.81 602 L225.01 600.3 L225.21 598.41 L225.4 596.9 L225.6 595.03 L225.79 591.32 L225.99 589.38 L226.19 588.26 L226.38 586.88 L226.58 584.27 L226.77 581.76 L226.97 581.23 L227.17 577.77 L227.39 575.28 L227.62 573.18 L227.85 571.11 L228.08 570.61 L228.31 567.22 L228.53 566.53 L228.76 564.84 L228.99 563.11 L229.22 560.66 L229.44 557.79 L229.67 556.2 L229.9 554.63 L230.2 552.36 L230.5 549.41 L230.8 548.43 L231.1 544.98 L231.41 543.41 L231.71 542.91 L232.01 539.74 L232.31 537.28 L232.61 536.4 L233 533.59 L233.38 530.53 L233.77 528.5 L234.15 526.93 L234.54 525.01 L234.93 524.27 L235.31 520.67 L235.81 519.75 L236.31 517.51 L236.8 514.31 L237.3 513.33 L237.8 510.58 L238.51 507.47 L239.23 504.49 L239.94 502.44 L240.91 501.33 L241.87 498.45 L243.8 495.33 L245.73 494.39 L247.65 495.06 L249.8 497.32 L250.64 500.29 L251.48 501.22 L252.32 505.08 L253 505.87 L253.69 507.91 L254.37 511.18 L255.06 512.77 L255.74 516.24 L256.43 517.59 L257.11 519.85 L257.8 522.74 L258.43 523.31 L259.06 526.41 L259.69 528.14 L260.32 529.59 L260.95 532.69 L261.58 532.57 L262.21 536.35 L262.84 536.7 L263.58 540.34 L264.32 540.93 L265.06 542.81 L265.8 545.9 L266.55 548.79 L267.31 549.27 L268.06 551.73 L268.82 553.95 L269.57 555.11 L270.41 557.83 L271.26 558.77 L272.1 561.83 L272.94 564.6 L273.79 565.77 L274.59 567.46 L275.39 569.04 L276.19 572.43 L277 573.78 L277.8 576.81 L278.7 578.54 L279.61 579.24 L280.51 583.14 L281.41 585.29 L282.27 586.99 L283.12 588.96 L283.98 590.58 L284.83 592.61 L285.62 594.43 L286.41 596.21 L287.21 597.42 L288 599.09 L288.69 602.32 L289.38 603.96 L290.07 604.7 L290.76 607.91 L291.38 609.77 L292.01 611.48 L292.64 613.98 L293.27 616.13 L293.95 617.19 L294.63 620.29 L295.32 621.75 L296 624.06 L296.64 625.82 L297.27 629.07 L297.91 630.11 L298.55 633.33 L299.19 634.09 L299.87 637.12 L300.55 639.94 L301.23 641.72 L301.91 643.33 L302.59 644.97 L303.27 647.87 L303.96 649.75 L304.64 652.65 L305.32 654.6 L306 657.07 L306.81 657.76 L307.63 659.55 L308.44 661.76 L309.26 664.04 L310.35 664.62 L311.43 666.97 L312.52 668.86 L313.68 671.37 L314.84 673.44 L316 677.03 L317.24 677.72 L318.47 681.67 L319.71 682.63 L320.69 684.25 L321.67 687.77 L322.65 687.65 L323.64 689.52 L324.73 691.44 L325.82 693.18 L326.91 695.77 L328 697.27 L329.21 699.17 L330.43 700.87 L331.64 704.39 L332.86 704.98 L334.18 707.45 L335.51 710.26 L336.83 713.04 L338.15 714.62 L339.59 716.63 L341.03 718.52 L342.46 720.65 L343.9 722.68 L345.49 722.84 L347.08 724.31 L348.67 727.25 L350.26 728.72 L351.97 730.25 L353.67 732.35 L355.38 732.54 L357.08 735.24 L358.79 735.9 L360.49 737.17 L362.2 738.06 L363.9 739.42 L366.05 741.33 L368.2 742.54 L370.34 744.57 L372.49 744.12 L374.64 746 L376.79 745.57 L379.16 747.6 L381.53 747.34 L383.9 749.69 L385.92 750.51 L387.94 749.53 L389.96 751.34 L391.98 750.63 L394.16 751.32 L396.35 751.38 L398.54 752.63 L400.72 752.39 L403.02 754.12 L405.31 754.25 L407.61 754.31 L409.9 755.36 L412.33 754.61 L414.76 755.12 L417.18 755.49 L419.61 754.99 L421.64 757.1 L423.67 755.5 L425.7 755.69 L427.73 757.39 L429.76 757.59 L431.76 756.9 L433.77 756.96 L435.78 756.46 L437.79 756.28 L439.8 757.55 L441.96 757.02 L444.12 756.9 L446.28 758.65 L448.45 756.79 L450.61 757.63 L452.75 758.53 L454.89 758.56 L457.03 757.2 L459.17 758.65 L461.31 758.3 L463.81 758.49 L466.3 759.23 L468.8 758.3" fill="none" stroke="#c847d4" stroke-width="1.8" stroke-linejoin="round" stroke-linecap="round" />
<path d="M119 712.8 L119.41 715.35 L120.04 719.08 L121 718.83 L122.48 715.51 L123.09 713.75 L123.69 711.03 L124.3 709.78 L124.86 708.06 L125.43 706.44 L126 703.09 L126.67 700.91 L127.33 697.89 L127.94 696.68 L128.56 693.8 L129.28 689.74 L130 688.86 L130.95 686.07 L131.89 682.68 L132.6 680.69 L133.3 677.86 L134.01 675.67 L134.67 674.48 L135.34 671.33 L136 669.38 L136.45 667.45 L136.89 664.99 L137.34 663.82 L137.79 661.74 L138.2 660.28 L138.62 657.38 L139.03 655.36 L139.45 652.82 L139.81 650.94 L140.17 648.32 L140.54 645.76 L140.9 645 L141.27 642.47 L141.64 639.65 L142 636.86 L142.3 633.64 L142.6 631.02 L142.9 628.7 L143.15 625.98 L143.4 625.09 L143.65 622.08 L143.9 620.69 L144.1 617.57 L144.31 616.51 L144.51 614.09 L144.71 610.19 L144.92 608.41 L145.12 607.61 L145.31 604.58 L145.5 603.46 L145.69 600.15 L145.88 597.36 L146.07 596.33 L146.27 594.48 L146.46 591.32 L146.74 588.58 L147.03 586.69 L147.32 585.58 L147.61 582.79 L147.9 579.14 L148.41 576.82 L148.91 573.96 L149.42 571.31 L150.23 570.49 L151.05 566.96 L152.9 568.02 L153.49 569.76 L154.09 571.21 L154.68 574.25 L155.27 575.01 L155.7 578.16 L156.13 579.23 L156.57 581.96 L157 583.67 L157.43 585.9 L157.86 589.43 L158.27 591.37 L158.68 592.66 L159.09 596.1 L159.49 597.04 L159.9 599.69 L160.17 603.21 L160.44 605.39 L160.71 606.91 L160.8 610.85 L160.89 611.46 L160.97 613.71 L161.44 617.64 L161.9 619.66 L162.97 622.19 L164.05 624.34 L165.46 626.63 L166.86 629.87 L168.38 631.34 L169.9 634.2 L171.49 635.82 L173.09 638.05 L174.79 641.03 L176.49 642.04 L178.2 644.19 L179.9 646.73 L181.53 647.22 L183.16 649.02 L184.79 652.38 L186.42 654.05 L188.16 655.21 L189.9 657.38 L191.18 660.54 L192.47 663.01 L193.75 663.59 L194.77 666.86 L195.79 668.49 L196.81 669.7 L197.83 671.11 L199.18 672.68 L200.54 674.77 L201.9 678.83 L203.18 679.25 L204.47 682.06 L205.75 683.04 L207.04 685.9 L208.32 687.17 L209.6 688.3 L211.04 689.79 L212.47 692.61 L213.9 693.04 L215.53 695.13 L217.16 697.57 L218.79 699.94 L220.57 701.24 L222.35 702.35 L224.13 705.4 L226.05 705.75 L227.98 707.16 L229.9 709.44 L231.49 711.16 L233.07 711.76 L234.66 713.36 L236.24 715.12 L237.93 716.9 L239.63 717.39 L241.32 719.22 L243.01 721.64 L244.71 723.08 L246.41 723.7 L248.1 725.02 L249.8 726.07 L251.46 726.3 L253.13 727.21 L254.79 728.3 L256.45 731.2 L258.67 732.13 L260.89 734 L263.11 733.46 L265.34 735.85 L267.57 736.7 L269.8 738.36 L272.17 738.46 L274.53 740.75 L276.9 739.83 L279.27 741.51 L281.64 742.63 L284.01 743.7 L286.01 744.04 L288 744.64 L290 745.49 L293.35 747.52 L295.56 747.97 L297.78 749.45 L300 750.7 L302.13 751.13 L304.26 750.7 L306.39 751.94 L308.52 752.57 L310.67 752.39 L312.82 752.89 L314.97 752.81 L317.12 753.61 L319.27 754.07 L321.41 753.34 L323.56 754.79 L325.71 755.83 L327.85 755.93 L330 755.96 L332.4 755.55 L334.8 756.51 L337.2 756.48 L339.6 756.47 L342 757.45 L344.39 756.12 L346.79 757.64 L349.19 756.38 L351.33 757.64 L353.47 757.52 L355.62 757.13 L357.76 758.18 L359.9 757.89 L362.2 758.22 L364.51 758.93 L366.81 757.7 L369.11 757.3 L371.41 757.98 L373.52 758.78 L375.63 757.89 L377.73 757.87 L379.84 759.4 L381.95 758.96 L384.05 758.58 L386.32 759.51 L388.58 758.41 L390.84 759.11 L393.11 758.21 L395.37 758.7 L397.64 759.48 L399.9 759.73 L402.03 759.67 L404.15 758.68 L406.28 759.09 L408.4 758.56 L410.53 758.21 L412.65 758.93 L414.78 759.62 L416.9 759.65 L419.03 759.38 L421.15 759.87 L423.28 758.53 L425.32 758.31 L427.37 758.87 L429.41 758.52 L431.46 758.39 L433.5 758.79 L435.55 759.21 L437.59 758.94 L439.64 758.58 L441.69 759.63 L443.73 759.91 L445.78 758.85 L447.82 758.09 L449.87 758 L451.97 759.68 L454.07 758.01 L456.18 759.34 L458.28 759.06 L460.39 758.53 L462.49 759.5 L464.59 757.95 L466.7 758.18 L468.8 758.9" fill="none" stroke="#2f7034" stroke-width="1.8" stroke-linejoin="round" stroke-linecap="round" />
<rect x="374.3" y="537" width="130.1" height="100.3" fill="#fff" stroke="#8a8a8a" stroke-width="1.1"/>
<line x1="382.3" y1="548.9" x2="417.9" y2="548.9" stroke="#262626" stroke-width="1.9" />
<text x="421.6" y="554.9" font-size="15.7" fill="#1f1f1f" stroke="#1f1f1f" stroke-width="0.3" >OFF Probe</text>
<line x1="382.3" y1="568.8" x2="417.9" y2="568.8" stroke="#c43b37" stroke-width="1.9" />
<text x="421.6" y="574.8" font-size="15.7" fill="#1f1f1f" stroke="#1f1f1f" stroke-width="0.3" >ON Probe</text>
<line x1="382.3" y1="588.7" x2="417.9" y2="588.7" stroke="#34349a" stroke-width="1.9" />
<text x="421.6" y="594.7" font-size="15.7" fill="#1f1f1f" stroke="#1f1f1f" stroke-width="0.3" >FA</text>
<line x1="382.3" y1="608.6" x2="417.9" y2="608.6" stroke="#c847d4" stroke-width="1.9" />
<text x="421.6" y="614.6" font-size="15.7" fill="#1f1f1f" stroke="#1f1f1f" stroke-width="0.3" >FITC</text>
<line x1="382.3" y1="628.5" x2="417.9" y2="628.5" stroke="#2f7034" stroke-width="1.9" />
<text x="421.6" y="634.5" font-size="15.7" fill="#1f1f1f" stroke="#1f1f1f" stroke-width="0.3" >CS</text>
<line x1="599.1" y1="475.1" x2="599.1" y2="790.9" stroke="#262626" stroke-width="1.7" />
<line x1="592.4" y1="790.9" x2="1002.9" y2="790.9" stroke="#262626" stroke-width="1.7" />
<line x1="592.4" y1="790.8" x2="599.1" y2="790.8" stroke="#262626" stroke-width="1.6" />
<line x1="595.5" y1="762.1" x2="599.1" y2="762.1" stroke="#262626" stroke-width="1.6" />
<line x1="592.4" y1="733.4" x2="599.1" y2="733.4" stroke="#262626" stroke-width="1.6" />
<line x1="595.5" y1="704.7" x2="599.1" y2="704.7" stroke="#262626" stroke-width="1.6" />
<line x1="592.4" y1="676" x2="599.1" y2="676" stroke="#262626" stroke-width="1.6" />
<line x1="595.5" y1="647.3" x2="599.1" y2="647.3" stroke="#262626" stroke-width="1.6" />
<line x1="592.4" y1="618.6" x2="599.1" y2="618.6" stroke="#262626" stroke-width="1.6" />
<line x1="595.5" y1="589.9" x2="599.1" y2="589.9" stroke="#262626" stroke-width="1.6" />
<line x1="592.4" y1="561.2" x2="599.1" y2="561.2" stroke="#262626" stroke-width="1.6" />
<line x1="595.5" y1="532.5" x2="599.1" y2="532.5" stroke="#262626" stroke-width="1.6" />
<line x1="592.4" y1="503.8" x2="599.1" y2="503.8" stroke="#262626" stroke-width="1.6" />
<line x1="595.5" y1="475.1" x2="599.1" y2="475.1" stroke="#262626" stroke-width="1.6" />
<text x="588.6" y="792.8" font-size="13" fill="#1f1f1f" stroke="#1f1f1f" stroke-width="0.3" text-anchor="end" >0</text>
<text x="583.4" y="738" font-size="13" fill="#1f1f1f" stroke="#1f1f1f" stroke-width="0.3" text-anchor="end" textLength="36.8" lengthAdjust="spacingAndGlyphs" >2.0x10</text>
<text x="583.9" y="731.2" font-size="6.2" fill="#1f1f1f" stroke="#1f1f1f" stroke-width="0.15" >4</text>
<text x="583.4" y="680.6" font-size="13" fill="#1f1f1f" stroke="#1f1f1f" stroke-width="0.3" text-anchor="end" textLength="36.8" lengthAdjust="spacingAndGlyphs" >4.0x10</text>
<text x="583.9" y="673.8" font-size="6.2" fill="#1f1f1f" stroke="#1f1f1f" stroke-width="0.15" >4</text>
<text x="583.4" y="623.2" font-size="13" fill="#1f1f1f" stroke="#1f1f1f" stroke-width="0.3" text-anchor="end" textLength="36.8" lengthAdjust="spacingAndGlyphs" >6.0x10</text>
<text x="583.9" y="616.4" font-size="6.2" fill="#1f1f1f" stroke="#1f1f1f" stroke-width="0.15" >4</text>
<text x="583.4" y="565.8" font-size="13" fill="#1f1f1f" stroke="#1f1f1f" stroke-width="0.3" text-anchor="end" textLength="36.8" lengthAdjust="spacingAndGlyphs" >8.0x10</text>
<text x="583.9" y="559" font-size="6.2" fill="#1f1f1f" stroke="#1f1f1f" stroke-width="0.15" >4</text>
<text x="583.4" y="508.4" font-size="13" fill="#1f1f1f" stroke="#1f1f1f" stroke-width="0.3" text-anchor="end" textLength="36.8" lengthAdjust="spacingAndGlyphs" >1.0x10</text>
<text x="583.9" y="501.6" font-size="6.2" fill="#1f1f1f" stroke="#1f1f1f" stroke-width="0.15" >5</text>
<line x1="604.4" y1="791" x2="604.4" y2="797.5" stroke="#262626" stroke-width="1.6" />
<text x="604.4" y="811.3" font-size="13" fill="#1f1f1f" stroke="#1f1f1f" stroke-width="0.3" text-anchor="middle" >0</text>
<line x1="635.05" y1="791" x2="635.05" y2="795" stroke="#262626" stroke-width="1.6" />
<line x1="665.7" y1="791" x2="665.7" y2="797.5" stroke="#262626" stroke-width="1.6" />
<text x="665.7" y="811.3" font-size="13" fill="#1f1f1f" stroke="#1f1f1f" stroke-width="0.3" text-anchor="middle" >10</text>
<line x1="696.35" y1="791" x2="696.35" y2="795" stroke="#262626" stroke-width="1.6" />
<line x1="727" y1="791" x2="727" y2="797.5" stroke="#262626" stroke-width="1.6" />
<text x="727" y="811.3" font-size="13" fill="#1f1f1f" stroke="#1f1f1f" stroke-width="0.3" text-anchor="middle" >20</text>
<line x1="757.65" y1="791" x2="757.65" y2="795" stroke="#262626" stroke-width="1.6" />
<line x1="788.3" y1="791" x2="788.3" y2="797.5" stroke="#262626" stroke-width="1.6" />
<text x="788.3" y="811.3" font-size="13" fill="#1f1f1f" stroke="#1f1f1f" stroke-width="0.3" text-anchor="middle" >30</text>
<line x1="818.95" y1="791" x2="818.95" y2="795" stroke="#262626" stroke-width="1.6" />
<line x1="849.6" y1="791" x2="849.6" y2="797.5" stroke="#262626" stroke-width="1.6" />
<text x="849.6" y="811.3" font-size="13" fill="#1f1f1f" stroke="#1f1f1f" stroke-width="0.3" text-anchor="middle" >40</text>
<line x1="880.25" y1="791" x2="880.25" y2="795" stroke="#262626" stroke-width="1.6" />
<line x1="910.9" y1="791" x2="910.9" y2="797.5" stroke="#262626" stroke-width="1.6" />
<text x="910.9" y="811.3" font-size="13" fill="#1f1f1f" stroke="#1f1f1f" stroke-width="0.3" text-anchor="middle" >50</text>
<line x1="941.55" y1="791" x2="941.55" y2="795" stroke="#262626" stroke-width="1.6" />
<line x1="972.2" y1="791" x2="972.2" y2="797.5" stroke="#262626" stroke-width="1.6" />
<text x="972.2" y="811.3" font-size="13" fill="#1f1f1f" stroke="#1f1f1f" stroke-width="0.3" text-anchor="middle" >60</text>
<line x1="1002.85" y1="791" x2="1002.85" y2="795" stroke="#262626" stroke-width="1.6" />
<text x="667.6" y="496.7" font-size="15.3" fill="#1f1f1f" stroke="#1f1f1f" stroke-width="0.3" textLength="227.5" lengthAdjust="spacingAndGlyphs" >Probe Fluorescence Restoration</text>
<text x="763.8" y="835.5" font-size="14.9" fill="#1f1f1f" stroke="#1f1f1f" stroke-width="0.3" textLength="75" lengthAdjust="spacingAndGlyphs" >Time (min)</text>
<text x="531.9" y="692.7" font-size="15.6" fill="#1f1f1f" stroke="#1f1f1f" stroke-width="0.3" textLength="101" lengthAdjust="spacingAndGlyphs" transform="rotate(-90 531.9 692.7)" >Intensity (CPS)</text>
<path d="M604.7 755.47 L608.69 749.18 L612.69 742.98 L616.68 736.86 L620.68 730.84 L624.67 724.91 L628.67 719.06 L632.66 713.3 L636.66 707.64 L640.65 702.06 L644.65 696.57 L648.64 691.17 L652.63 685.86 L656.63 680.64 L660.62 675.51 L664.62 670.47 L668.61 665.52 L672.61 660.65 L676.6 655.88 L680.6 651.19 L684.59 646.6 L688.59 642.09 L692.58 637.68 L696.58 633.35 L700.57 629.11 L704.56 624.96 L708.56 620.9 L712.55 616.93 L716.55 613.05 L720.54 609.26 L724.54 605.56 L728.53 601.95 L732.53 598.42 L736.52 594.99 L740.52 591.64 L744.51 588.39 L748.5 585.22 L752.5 582.15 L756.49 579.16 L760.49 576.26 L764.48 573.45 L768.48 570.73 L772.47 568.1 L776.47 565.56 L780.46 563.11 L784.46 560.75 L788.45 558.47 L792.44 556.29 L796.44 554.19 L800.43 552.19 L804.43 550.27 L808.42 548.45 L812.42 546.71 L816.41 545.06 L820.41 543.5 L824.4 542.03 L828.4 540.65 L832.39 539.36 L836.38 538.16 L840.38 537.05 L844.37 536.03 L848.37 535.09 L852.36 534.25 L856.36 533.5 L860.35 532.83 L864.35 532.25 L868.34 531.77 L872.34 531.37 L876.33 531.06 L880.33 530.84 L884.32 530.71 L888.31 530.67 L892.31 530.72 L896.3 530.86 L900.3 531.09 L904.29 531.4 L908.29 531.81 L912.28 532.31 L916.28 532.89 L920.27 533.56 L924.27 534.33 L928.26 535.18 L932.25 536.12 L936.25 537.15 L940.24 538.28 L944.24 539.49 L948.23 540.79 L952.23 542.17 L956.22 543.65 L960.22 545.22 L964.21 546.88 L968.21 548.62 L972.2 550.46" fill="none" stroke="#111" stroke-width="1.7" stroke-linejoin="round" stroke-linecap="round" />
<rect x="601.1" y="768.3" width="7.2" height="7.2" fill="#000"/>
<rect x="607.4" y="747.1" width="7.2" height="7.2" fill="#000"/>
<rect x="619.7" y="715.6" width="7.2" height="7.2" fill="#000"/>
<rect x="650.4" y="666.7" width="7.2" height="7.2" fill="#000"/>
<rect x="674.7" y="643.4" width="7.2" height="7.2" fill="#000"/>
<rect x="699.5" y="620.7" width="7.2" height="7.2" fill="#000"/>
<rect x="735.4" y="586" width="7.2" height="7.2" fill="#000"/>
<rect x="772.6" y="572.1" width="7.2" height="7.2" fill="#000"/>
<rect x="809.2" y="551.2" width="7.2" height="7.2" fill="#000"/>
<rect x="846.1" y="537.3" width="7.2" height="7.2" fill="#000"/>
<rect x="882.5" y="517" width="7.2" height="7.2" fill="#000"/>
<rect x="919.4" y="531.2" width="7.2" height="7.2" fill="#000"/>
<rect x="950.3" y="545.7" width="7.2" height="7.2" fill="#000"/>
<rect x="968.2" y="537.3" width="7.2" height="7.2" fill="#000"/>
<line x1="595.5" y1="41.6" x2="595.5" y2="368.4" stroke="#262626" stroke-width="1.6" />
<line x1="595.5" y1="368.4" x2="1003.6" y2="368.4" stroke="#262626" stroke-width="1.6" />
<line x1="1003.61" y1="368.4" x2="1003.61" y2="374.8" stroke="#262626" stroke-width="1.5" />
<text x="1003.61" y="389.3" font-size="13" fill="#2c2c2c" stroke="#2c2c2c" stroke-width="0.45" text-anchor="middle" >500</text>
<line x1="974.44" y1="368.4" x2="974.44" y2="372.4" stroke="#262626" stroke-width="1.5" />
<line x1="945.28" y1="368.4" x2="945.28" y2="374.8" stroke="#262626" stroke-width="1.5" />
<text x="945.28" y="389.3" font-size="13" fill="#2c2c2c" stroke="#2c2c2c" stroke-width="0.45" text-anchor="middle" >1000</text>
<line x1="916.12" y1="368.4" x2="916.12" y2="372.4" stroke="#262626" stroke-width="1.5" />
<line x1="886.95" y1="368.4" x2="886.95" y2="374.8" stroke="#262626" stroke-width="1.5" />
<text x="886.95" y="389.3" font-size="13" fill="#2c2c2c" stroke="#2c2c2c" stroke-width="0.45" text-anchor="middle" >1500</text>
<line x1="857.78" y1="368.4" x2="857.78" y2="372.4" stroke="#262626" stroke-width="1.5" />
<line x1="828.62" y1="368.4" x2="828.62" y2="374.8" stroke="#262626" stroke-width="1.5" />
<text x="828.62" y="389.3" font-size="13" fill="#2c2c2c" stroke="#2c2c2c" stroke-width="0.45" text-anchor="middle" >2000</text>
<line x1="799.45" y1="368.4" x2="799.45" y2="372.4" stroke="#262626" stroke-width="1.5" />
<line x1="770.29" y1="368.4" x2="770.29" y2="374.8" stroke="#262626" stroke-width="1.5" />
<text x="770.29" y="389.3" font-size="13" fill="#2c2c2c" stroke="#2c2c2c" stroke-width="0.45" text-anchor="middle" >2500</text>
<line x1="741.12" y1="368.4" x2="741.12" y2="372.4" stroke="#262626" stroke-width="1.5" />
<line x1="711.96" y1="368.4" x2="711.96" y2="374.8" stroke="#262626" stroke-width="1.5" />
<text x="711.96" y="389.3" font-size="13" fill="#2c2c2c" stroke="#2c2c2c" stroke-width="0.45" text-anchor="middle" >3000</text>
<line x1="682.79" y1="368.4" x2="682.79" y2="372.4" stroke="#262626" stroke-width="1.5" />
<line x1="653.63" y1="368.4" x2="653.63" y2="374.8" stroke="#262626" stroke-width="1.5" />
<text x="653.63" y="389.3" font-size="13" fill="#2c2c2c" stroke="#2c2c2c" stroke-width="0.45" text-anchor="middle" >3500</text>
<line x1="624.46" y1="368.4" x2="624.46" y2="372.4" stroke="#262626" stroke-width="1.5" />
<line x1="595.3" y1="368.4" x2="595.3" y2="374.8" stroke="#262626" stroke-width="1.5" />
<text x="595.3" y="389.3" font-size="13" fill="#2c2c2c" stroke="#2c2c2c" stroke-width="0.45" text-anchor="middle" >4000</text>
<text x="579.6" y="268.8" font-size="16.6" fill="#2a2a2a" stroke="#2a2a2a" stroke-width="0.15" textLength="161" lengthAdjust="spacingAndGlyphs" transform="rotate(-90 579.6 268.8)" >%Transmission (a.u.)</text>
<text x="700.2" y="410.2" font-size="17.5" fill="#2a2a2a" stroke="#2a2a2a" stroke-width="0.3" textLength="137.2" lengthAdjust="spacingAndGlyphs" >Wavenumber (cm</text>
<text x="837.4" y="403.2" font-size="10.5" fill="#2a2a2a" stroke="#2a2a2a" stroke-width="0.3" textLength="11.5" lengthAdjust="spacingAndGlyphs" >-1</text>
<text x="850.6" y="410.2" font-size="17.5" fill="#2a2a2a" stroke="#2a2a2a" stroke-width="0.3" >)</text>
<text x="602.4" y="40.1" font-size="17" fill="#2a2a2a" stroke="#2a2a2a" stroke-width="0.3" textLength="118.5" lengthAdjust="spacingAndGlyphs" >Dopamine HCl</text>
<text x="602.4" y="125.9" font-size="17" fill="#2a2a2a" stroke="#2a2a2a" stroke-width="0.3" textLength="131" lengthAdjust="spacingAndGlyphs" >Dopamine-Qdot</text>
<text x="602.2" y="252.9" font-size="17" fill="#2a2a2a" stroke="#2a2a2a" stroke-width="0.3" textLength="81" lengthAdjust="spacingAndGlyphs" >Full probe</text>
<text x="827.1" y="81.6" font-size="16.8" fill="#2a2a2a" stroke="#2a2a2a" stroke-width="0.2" textLength="39.7" lengthAdjust="spacingAndGlyphs" >1600</text>
<text x="835.7" y="195.4" font-size="16.8" fill="#2a2a2a" stroke="#2a2a2a" stroke-width="0.2" textLength="39.7" lengthAdjust="spacingAndGlyphs" >1587</text>
<text x="884" y="217" font-size="16.8" fill="#2a2a2a" stroke="#2a2a2a" stroke-width="0.2" textLength="39.7" lengthAdjust="spacingAndGlyphs" >1380</text>
<text x="821.7" y="290.6" font-size="16.8" fill="#2a2a2a" stroke="#2a2a2a" stroke-width="0.2" textLength="39.7" lengthAdjust="spacingAndGlyphs" >1635</text>
<text x="885.1" y="330.4" font-size="16.8" fill="#2a2a2a" stroke="#2a2a2a" stroke-width="0.2" textLength="38.6" lengthAdjust="spacingAndGlyphs" >1384</text>
<line x1="881.7" y1="38.6" x2="881.7" y2="118.1" stroke="#151515" stroke-width="1.6" stroke-dasharray="4.5 2.8"/>
<line x1="881.5" y1="140.6" x2="881.5" y2="220.8" stroke="#151515" stroke-width="1.6" stroke-dasharray="4.5 2.8"/>
<line x1="904.5" y1="150.3" x2="904.5" y2="192.9" stroke="#151515" stroke-width="1.6" stroke-dasharray="4.5 2.8"/>
<line x1="876.6" y1="253" x2="876.6" y2="314.3" stroke="#151515" stroke-width="1.6" stroke-dasharray="4.5 2.8"/>
<line x1="906" y1="258.4" x2="906" y2="305.7" stroke="#151515" stroke-width="1.6" stroke-dasharray="4.5 2.8"/>
<path d="M595.6 55.5 L599.79 55.92 L605.81 56.47 L612 56.7 L617.75 56.4 L623.67 55.77 L630 55 L637.26 53.91 L644.92 52.67 L651.6 52 L656.79 52.19 L660.99 52.94 L664.4 54.1 L666.87 55.42 L668.55 57.14 L670 59.8 L671.35 64.56 L672.48 70.24 L673.6 73.9 L674.69 73.49 L675.77 71.04 L677.1 69.7 L678.79 70.74 L680.71 72.87 L682.8 75.4 L684.96 78.44 L687.27 81.88 L689.9 84.6 L692.99 85.8 L696.4 86.28 L699.8 87.4 L703.23 90.65 L706.66 94.53 L709.7 95.9 L712.2 92.22 L714.31 86.03 L716.1 81.8 L717.35 82.13 L718.27 84.42 L719.6 85.3 L721.47 83.17 L723.74 79.64 L726.7 76.1 L730.8 72.76 L735.6 69.43 L740 66.9 L743.15 65.69 L745.91 65.3 L749.8 65 L755.7 64.63 L762.74 64.36 L769.8 64 L776.47 63.43 L783.16 62.78 L790 62.2 L796.83 61.78 L803.81 61.43 L811.5 61.1 L820.8 60.84 L830.82 60.59 L839.4 60.1 L845.59 59.18 L850.35 58.02 L854.4 56.9 L857.8 55.9 L860.49 54.95 L863 54.1 L865.71 53.33 L868.24 52.66 L870 52.2" fill="none" stroke="#1e1e1e" stroke-width="1.9" stroke-linejoin="round" stroke-linecap="round" />
<path d="M870 52.2 L874.8 50.6 L876.3 51.6 L877.4 61.1 L877.9 74.9 L879.5 66.4 L881.1 71.7 L882.2 59 L883.2 54.8 L885.3 50 L888 49 L889 52.7 L890.1 63.3 L891.1 82.3 L892.2 123.5 L893.3 98.1 L895.4 84.4 L898.5 66.4 L902.8 55.9 L904.9 58 L907 53.2 L909.1 59 L910.7 77 L911.8 69.6 L912.8 86.5 L914.4 61.1 L915.5 50.6 L916.5 71.7 L917.6 120.3 L919.2 95 L921.8 71.7 L924.4 62.2 L926 71.7 L927.6 87.6 L930.3 120.3 L932.4 92.9 L934.2 112.9 L936.3 78.1 L937.9 108.7 L940 75.9 L942.2 89.7 L943.7 71.7 L948 65.4 L949.6 81.2 L951.1 67.5 L954.3 62.2 L957 71.7 L958.5 92.9 L960.1 71.7 L963.8 59 L965.9 90.7 L967.5 60.1 L971.8 50.6 L972.8 61.1 L973.3 123.5 L974.4 59 L976 96 L978.1 74.9 L980.7 93.9 L981.8 63.3 L986 55.9 L992.4 52.2" fill="none" stroke="#1e1e1e" stroke-width="1.9" stroke-linejoin="round" stroke-linecap="round" />
<path d="M595.6 139.1 L606.01 138.65 L620.52 138.2 L632.5 139.1 L639.06 142.29 L643.09 146.81 L646.6 151.2 L650.05 155.04 L652.97 158.73 L656 162 L659.12 164.9 L662.34 167.39 L666.3 169 L671.45 169.51 L677.33 169.16 L683.2 168.2 L688.9 166.56 L694.6 164.33 L700 162 L705.29 159.36 L710.3 156.64 L714.2 155 L716.37 155.34 L717.44 156.77 L718.5 157.8 L719.64 158.12 L720.78 158.04 L722.7 157 L725.42 154.27 L728.93 150.58 L734 147.5 L741.31 145.64 L750.2 144.39 L759.4 143.5 L768.73 143 L778.38 142.86 L787.7 142.7 L795.62 142.44 L803.2 142.18 L813 141.8 L828.09 141.1 L845.39 140.3 L858.2 139.9 L862.73 139.9 L862.77 140.3 L863 141.7 L865.08 144.29 L867.35 147.86 L869.5 152.4 L871.42 158.5 L873.22 165.57 L874.9 171.8 L876.5 176.61 L877.97 180.59 L879.2 183.6 L879.98 185.94 L880.52 187.32 L881.3 186.8 L882.37 183.36 L883.69 178.02 L885.6 172.9 L888.56 167.87 L892.11 163.06 L895.3 161 L897.83 163.74 L900 169.24 L901.7 173.9 L902.67 177.29 L903.17 179.85 L903.9 179.3 L905.1 173.08 L906.53 163.75 L908.2 156.7 L910.26 154.17 L912.54 153.91 L914.6 154.6 L916.23 155.62 L917.63 157.59 L918.9 161 L920.05 166.12 L921.07 172.69 L922.1 180.4 L923.09 190.48 L924.07 201.7 L925.3 210.1 L927 212.5 L928.94 212.08 L930.7 214.4 L932.06 223.59 L933.22 235.52 L934.4 243.4 L935.6 244.12 L936.81 240.79 L938.2 235.9 L940 228.81 L941.99 220.17 L943.6 214.4 L944.5 214.8 L945.03 218.07 L945.7 218.7 L946.67 213.99 L947.78 206.64 L949 199.3 L950.44 192.45 L951.99 185.61 L953.3 180 L954 176.34 L954.46 173.91 L955.4 171.8 L957.32 169.39 L959.73 167.3 L961.9 166.4 L963.5 167.68 L964.85 170.16 L966.2 171.8 L967.64 170.95 L969.07 169.26 L970.5 169.6 L971.94 174.49 L973.37 181.4 L974.7 185.7 L975.71 184.43 L976.62 180.54 L978 178.2 L980.19 179.06 L982.84 181.47 L985.5 184.7 L988.28 189.3 L991.06 194.72 L993 198.6" fill="none" stroke="#b45a58" stroke-width="1.9" stroke-linejoin="round" stroke-linecap="round" />
<path d="M595.5 260.8 L605.94 260.5 L620.49 260.21 L632.5 260.8 L638.79 262.44 L642.53 264.96 L646.6 268.8 L652.26 275.07 L658.24 282.65 L663.6 288.6 L667.82 291.66 L671.41 293.09 L675 293.7 L678.56 293.76 L682.11 293 L686.3 291.4 L691.76 288.4 L697.84 284.56 L703.3 281.5 L707.49 279.76 L711.04 278.81 L714.6 278.7 L718.36 280.2 L722.13 282.54 L725.9 283.5 L729.28 281.83 L732.67 278.78 L737.3 275.8 L743.58 273.34 L751.11 270.97 L759.9 268.8 L770.29 266.84 L781.94 265.1 L793.9 263.7 L806.24 262.72 L818.89 262.08 L830.7 261.7 L841.9 261.56 L852.26 261.68 L860 262 L863.7 262.43 L864.79 263.07 L865.7 264.1 L867.23 265.6 L868.6 267.51 L869.9 269.8 L871.17 272.82 L872.38 276.23 L873.5 279 L874.41 280.9 L875.24 282.17 L876.3 282.5 L877.83 281.6 L879.59 279.76 L881.2 277.6 L882.5 274.46 L883.66 270.99 L884.8 269.8 L885.89 273.43 L886.97 279.34 L888.3 282.5 L889.99 279.6 L891.91 273.95 L894 270.5 L896.34 271.87 L898.84 275.44 L901.1 278.3 L902.94 279.4 L904.54 279.78 L906 279.7 L907.27 278.87 L908.4 277.57 L909.6 276.9 L910.95 277.81 L912.37 279.34 L913.8 279.7 L915.28 277.49 L916.77 274.11 L918.1 271.9 L919.12 272.26 L919.97 273.79 L920.9 274.7 L921.96 273.92 L923.1 272.51 L924.4 271.9 L926.04 272.55 L927.84 273.99 L929.4 276.2 L930.57 279.34 L931.5 283.26 L932.2 287.5 L932.56 292.81 L932.69 298.44 L932.9 301.7 L933.29 300.39 L933.77 296.7 L934.4 294.6 L935.16 294.4 L936.06 295.77 L937.2 301.7 L938.76 316.92 L940.56 336.7 L942.2 349.8 L943.48 349.23 L944.59 341.98 L945.7 337.8 L946.79 343.45 L947.87 352.16 L949.2 353.4 L951.07 338.87 L953.19 316.86 L954.9 301.7 L955.79 301.64 L956.27 308.43 L957 311.6 L958.35 305.5 L959.95 295.79 L961.3 288.9 L962.09 288.36 L962.63 290.66 L963.4 291.7 L964.59 289.23 L966.01 285.5 L967.6 283.2 L969.29 283.32 L971.14 284.86 L973.3 287.5 L976.08 291.56 L979.17 296.71 L981.8 301.7 L983.55 306.41 L984.83 310.96 L986.1 314.4 L987.53 315.7 L988.95 315.89 L990.3 317.2 L991.6 321.15 L992.83 326.21 L993.9 330 L994.69 330.84 L995.3 330.41 L996 331.4 L996.99 335.71 L998.05 341.44 L998.8 345.6" fill="none" stroke="#2b2b80" stroke-width="2.0" stroke-linejoin="round" stroke-linecap="round" />
</svg>
</body></html>
